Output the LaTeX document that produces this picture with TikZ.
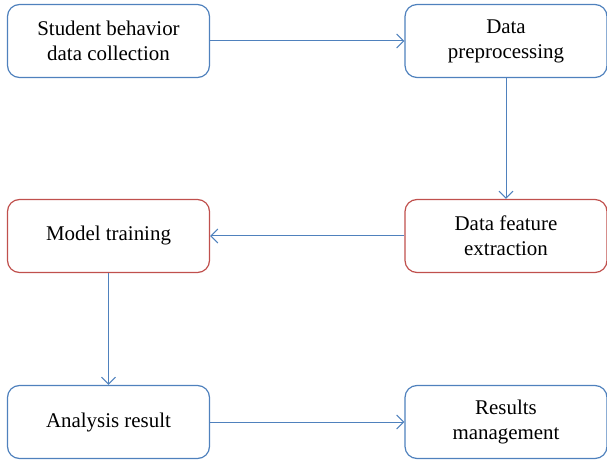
\documentclass[tikz,border=0pt]{standalone}
\usepackage{fontspec}
\setmainfont{Liberation Serif}
\usetikzlibrary{arrows.meta}
\definecolor{flowblue}{RGB}{79,129,189}
\definecolor{flowred}{RGB}{192,80,77}
\begin{document}
\begin{tikzpicture}[x=1bp,y=-1bp,
  stage/.style={draw=flowblue, line width=1.2bp, rounded corners=12bp,
    minimum width=202bp, minimum height=73bp, align=center,
    font=\fontsize{21}{25}\selectfont, inner sep=0pt},
  redstage/.style={stage, draw=flowred},
  flow/.style={draw=flowblue, line width=1bp, -{Straight Barb[length=7bp,width=14bp]}}]
\useasboundingbox (0,0) rectangle (607,466);
\node[stage] (collect) at (108.5,41) {Student behavior\\data collection};
\node[stage] (prep) at (506,41) {Data\\preprocessing};
\node[redstage] (feature) at (506,236) {Data feature\\extraction};
\node[redstage] (train) at (108.5,236) {Model training};
\node[stage] (analysis) at (108.5,422) {Analysis result};
\node[stage] (manage) at (506,422) {Results\\management};
\draw[flow] (collect) -- (prep);
\draw[flow] (prep) -- (feature);
\draw[flow] (feature) -- (train);
\draw[flow] (train) -- (analysis);
\draw[flow] (analysis) -- (manage);
\end{tikzpicture}
\end{document}
